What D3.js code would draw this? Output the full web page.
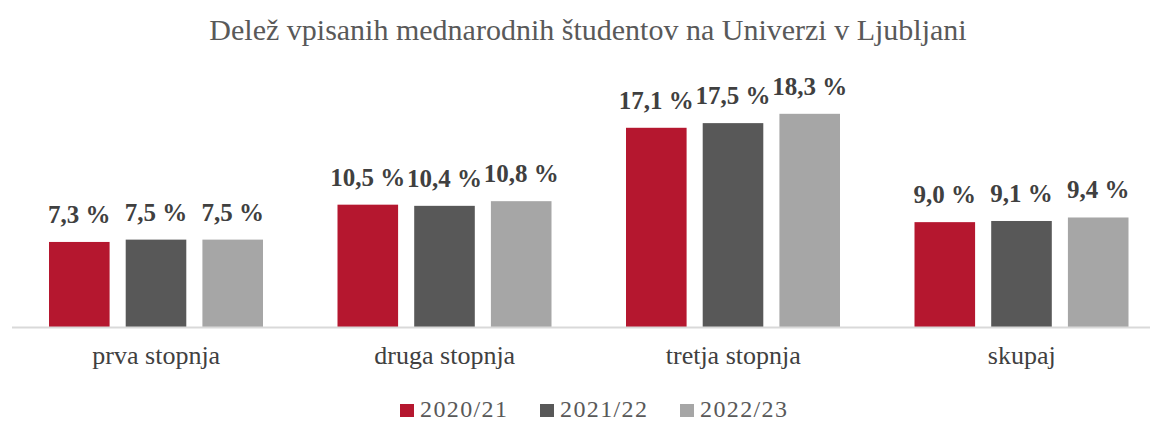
<!DOCTYPE html>
<html>
<head>
<meta charset="utf-8">
<script src="https://cdn.jsdelivr.net/npm/d3@7"></script>
<style>
  body { margin: 0; background: #fff; }
  text { font-family: "Liberation Serif", "Times New Roman", serif; }
</style>
</head>
<body>
<svg id="chart"></svg>
<script>
const categories = ["prva stopnja", "druga stopnja", "tretja stopnja", "skupaj"];
const years = ["2020/21", "2021/22", "2022/23"];
const colors = ["#b5172f", "#585858", "#a6a6a6"];
// values per year, in category order
const v2020 = [7.3, 10.5, 17.1, 9.0];
const v2021 = [7.5, 10.4, 17.5, 9.1];
const v2022 = [7.5, 10.8, 18.3, 9.4];
const series = [v2020, v2021, v2022];

const W = 1150, H = 421;
const svg = d3.select("#chart").attr("width", W).attr("height", H);

const x = d3.scaleBand().domain(categories).range([12, 1166]).paddingInner(0).paddingOuter(0);
const xSub = d3.scaleBand().domain(years).range([37, 251]).paddingInner(0.21).paddingOuter(0);
const y = d3.scaleLinear().domain([0, 20]).range([327, 94]);

// title
svg.append("text")
  .attr("x", 588).attr("y", 40)
  .attr("text-anchor", "middle")
  .attr("font-size", 30)
  .attr("fill", "#595959")
  .text("Delež vpisanih mednarodnih študentov na Univerzi v Ljubljani");

const data = categories.map((c, i) => ({
  cat: c,
  vals: years.map((yr, j) => ({ year: yr, value: series[j][i], color: colors[j] }))
}));

const groups = svg.append("g").selectAll("g")
  .data(data)
  .join("g")
  .attr("transform", d => `translate(${x(d.cat)},0)`);

groups.selectAll("rect")
  .data(d => d.vals)
  .join("rect")
  .attr("x", d => xSub(d.year))
  .attr("y", d => y(d.value))
  .attr("width", xSub.bandwidth())
  .attr("height", d => y(0) - y(d.value))
  .attr("fill", d => d.color);

groups.selectAll("text.lab")
  .data(d => d.vals)
  .join("text")
  .attr("class", "lab")
  .attr("x", d => xSub(d.year) + xSub.bandwidth() / 2)
  .attr("y", d => y(d.value) - 19)
  .attr("text-anchor", "middle")
  .attr("font-size", 25)
  .attr("font-weight", "bold")
  .attr("fill", "#404040")
  .text(d => d.value.toFixed(1).replace(".", ",") + " %");

// baseline
svg.append("line")
  .attr("x1", 12).attr("x2", W)
  .attr("y1", y(0) + 0.5).attr("y2", y(0) + 0.5)
  .attr("stroke", "#d9d9d9").attr("stroke-width", 2);

// category axis
const xAxis = svg.append("g")
  .attr("transform", `translate(0,${y(0)})`)
  .call(d3.axisBottom(x).tickSize(0).tickPadding(19));
xAxis.select(".domain").remove();
xAxis.selectAll("text")
  .attr("font-family", "Liberation Serif, serif")
  .attr("font-size", 26)
  .attr("fill", "#404040");

// legend
const legend = svg.append("g").selectAll("g")
  .data(years)
  .join("g")
  .attr("transform", (d, i) => `translate(${400 + i * 140},0)`);
legend.append("rect")
  .attr("x", 0).attr("y", 404)
  .attr("width", 14).attr("height", 13)
  .attr("fill", (d, i) => colors[i]);
legend.append("text")
  .attr("x", 20).attr("y", 417)
  .attr("font-size", 24)
  .attr("textLength", 87)
  .attr("lengthAdjust", "spacing")
  .attr("fill", "#595959")
  .text(d => d);
</script>
</body>
</html>
